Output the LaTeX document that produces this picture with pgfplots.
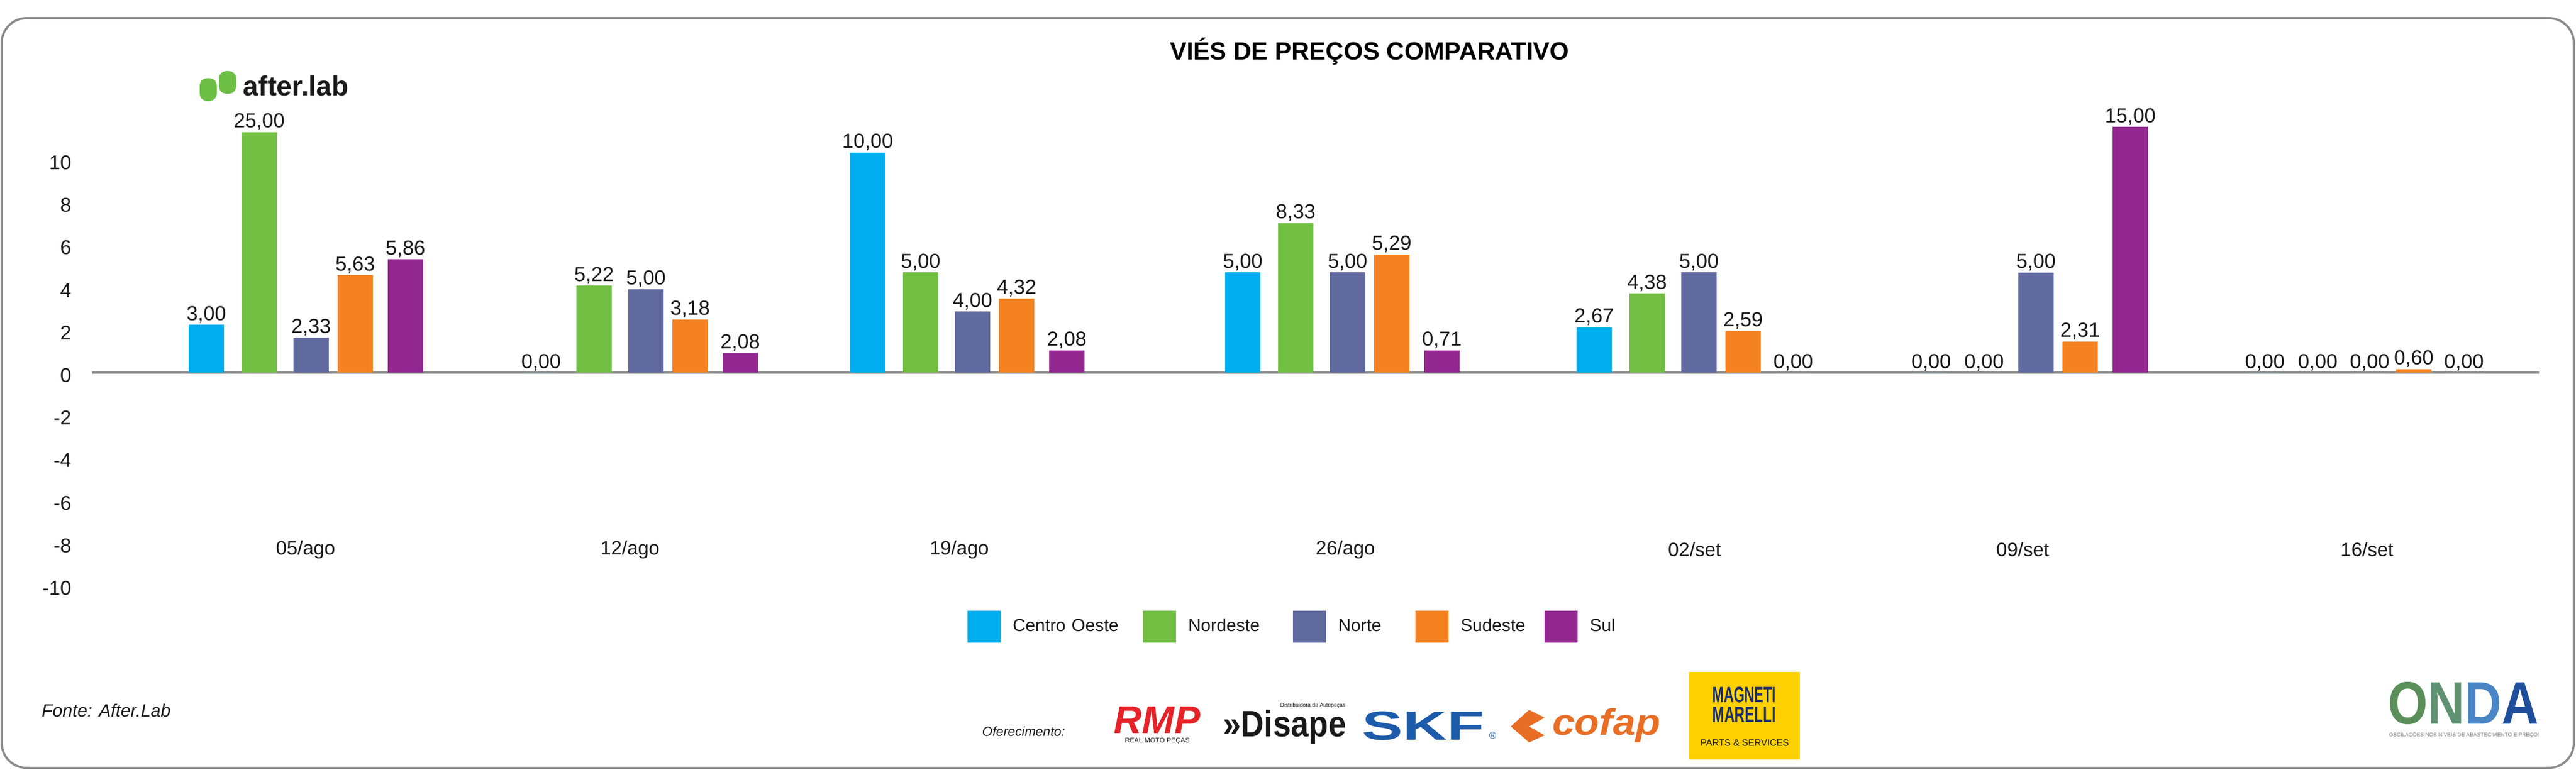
\documentclass[border=0pt]{standalone}
\usepackage{fontspec}
\setmainfont{Liberation Sans}
\usepackage{graphicx}
\usepackage{pgfplots}
\pgfplotsset{compat=1.18}
\definecolor{cCO}{HTML}{00AEEF}
\definecolor{cNE}{HTML}{72BF44}
\definecolor{cN}{HTML}{616A9F}
\definecolor{cSE}{HTML}{F58220}
\definecolor{cSul}{HTML}{92278F}
\definecolor{zerogray}{HTML}{8A8A8A}
\definecolor{framegray}{HTML}{8C8C8C}
\definecolor{txt}{HTML}{1A1A1A}
\definecolor{alab}{HTML}{6CBE45}
\definecolor{rmpred}{HTML}{E52329}
\definecolor{skfblue}{HTML}{1D5BAB}
\definecolor{cofap}{HTML}{E86E25}
\definecolor{mmyellow}{HTML}{FFD100}
\definecolor{mmnavy}{HTML}{1B2D6E}
\begin{document}
\begin{tikzpicture}
\useasboundingbox (0,0) rectangle (467mm,139.6mm);
\fill[white] (0,0) rectangle (467mm,139.6mm);
\begin{scope}[x=0.1mm,y=-0.1mm,shift={(0,139.6mm)}]
\draw[framegray, line width=0.4mm, rounded corners=4.5mm] (3,33) rectangle (4666,1393);
\node[anchor=base, inner sep=0pt, text=black] at (2483,109) {\fontsize{12.8}{15}\selectfont\bfseries VIÉS DE PREÇOS COMPARATIVO};
% after.lab logo
\fill[alab, rounded corners=1.3mm] (362,142) rectangle (393,183);
\fill[alab, rounded corners=1.3mm] (397,129) rectangle (428,170);
\node[anchor=base west, inner sep=0pt, text=txt] at (440,174) {\fontsize{14.2}{16}\selectfont\bfseries after.lab};
% source
\node[anchor=base west, inner sep=0pt, text=txt] at (75,1300) {\fontsize{9.2}{11}\selectfont\itshape Fonte: After.Lab};
\node[anchor=base west, inner sep=0pt, text=txt] at (1780,1335) {\fontsize{6.8}{8}\selectfont\itshape Oferecimento:};
% sponsors
\node[anchor=base, inner sep=0pt, text=rmpred] at (2098,1330) {\fontsize{20}{20}\selectfont\bfseries\itshape RMP};
\node[anchor=base, inner sep=0pt, text=txt] at (2098,1347) {\fontsize{3.5}{4}\selectfont REAL MOTO PEÇAS};
\node[anchor=base, inner sep=0pt, text=txt] at (2329,1336) {\scalebox{0.87}[1]{\fontsize{19}{20}\selectfont\bfseries »Disape}};
\node[anchor=base, inner sep=0pt, text=txt] at (2380,1282) {\fontsize{2.8}{3}\selectfont Distribuidora de Autopeças};
\node[anchor=base, inner sep=0pt, text=skfblue] at (2580,1342) {\scalebox{1.5}[1]{\fontsize{21}{21}\selectfont\bfseries SKF}};
\node[anchor=base, inner sep=0pt, text=skfblue] at (2706,1340) {\fontsize{5}{5}\selectfont ®};
\fill[cofap] (2772,1288) -- (2800,1302) -- (2772,1318) -- (2800,1334) -- (2772,1347) -- (2739,1318) -- cycle;
\node[anchor=base, inner sep=0pt, text=cofap] at (2912,1333) {\scalebox{1.1}[1]{\fontsize{19}{20}\selectfont\bfseries\itshape cofap}};
\fill[mmyellow] (3062,1219) rectangle (3263,1378);
\node[anchor=base, inner sep=0pt, text=mmnavy] at (3162,1274) {\scalebox{0.62}[1]{\fontsize{11.5}{12}\selectfont\bfseries MAGNETI}};
\node[anchor=base, inner sep=0pt, text=mmnavy] at (3162,1310) {\scalebox{0.64}[1]{\fontsize{11.5}{12}\selectfont\bfseries MARELLI}};
\node[anchor=base, inner sep=0pt, text=txt] at (3163,1353) {\fontsize{4.8}{5}\selectfont PARTS \& SERVICES};
% ONDA
\node[anchor=base, inner sep=0pt] at (4466,1313) {\scalebox{0.85}[1]{\fontsize{31}{31}\selectfont\bfseries\textcolor[HTML]{5A8F5A}{O}\textcolor[HTML]{5E9270}{N}\textcolor[HTML]{4A86C5}{D}\textcolor[HTML]{1F4E9A}{A}}};
\node[anchor=base, inner sep=0pt, text=gray] at (4467,1336) {\resizebox{27.2mm}{!}{\fontsize{3}{3}\selectfont OSCILAÇÕES NOS NÍVEIS DE ABASTECIMENTO E PREÇO!}};
\end{scope}
\begin{axis}[
  at={(16.7mm,33.4mm)}, anchor=south west,
  scale only axis, width=443.6mm, height=84.92mm,
  xmin=167, xmax=4603, ymin=-10, ymax=12,
  ybar, bar width=64,
  axis line style={draw=none}, major tick length=0pt,
  ytick={-10,-8,...,10},
  yticklabels={-10,-8,-6,-4,-2,0,2,4,6,8,10},
  yticklabel style={font=\fontsize{10.3}{12}\selectfont, text=txt, anchor=east, inner sep=0pt, xshift=-3.7mm, yshift=-0.5mm},
  xtick={554,1142,1739,2439,3072,3667,4291},
  xticklabels={05/ago,12/ago,19/ago,26/ago,02/set,09/set,16/set},
  xticklabel style={font=\fontsize{10}{12}\selectfont, text=txt, anchor=center, inner sep=0pt, yshift=6.5mm},
  extra y ticks={0}, extra y tick labels={},
  extra y tick style={grid=major, major grid style={zerogray, line width=0.33mm}},
  clip=false,
  point meta=explicit symbolic,
  nodes near coords,
  nodes near coords style={font=\fontsize{10.5}{12}\selectfont, text=txt, anchor=base, inner sep=0pt, yshift=0.8mm},
  legend columns=5,
  legend cell align=left,
  legend image code/.code={\fill[#1] (0mm,-2.9mm) rectangle (6mm,2.9mm);},
  legend style={at={(axis description cs:0.35775,-0.0883)}, anchor=west, draw=none, fill=none,
    inner sep=0pt, outer sep=0pt, font=\fontsize{9.1}{11}\selectfont, text=txt,
    nodes={inner sep=0pt, align=left},
    /tikz/every odd column/.append style={column sep=2.2mm},
    /tikz/every even column/.append style={column sep=0pt}},
]
\addplot[fill=cCO, draw=none, bar shift=-190] coordinates {
 (564,2.25) [3,00] (1171,0) [0,00] (1763,10.34) [10,00] (2443,4.71) [5,00]
 (3080,2.13) [2,67] (3691,0) [0,00] (4296,0) [0,00]};
\addlegendentry[text width=23.6mm]{Centro Oeste}
\addplot[fill=cNE, draw=none, bar shift=-94] coordinates {
 (564,11.3) [25,00] (1171,4.09) [5,22] (1763,4.71) [5,00] (2443,7.03) [8,33]
 (3080,3.72) [4,38] (3691,0) [0,00] (4296,0) [0,00]};
\addlegendentry[text width=19mm]{Nordeste}
\addplot[fill=cN, draw=none, bar shift=0] coordinates {
 (564,1.64) [2,33] (1171,3.92) [5,00] (1763,2.87) [4,00] (2443,4.71) [5,00]
 (3080,4.71) [5,00] (3691,4.70) [5,00] (4296,0) [0,00]};
\addlegendentry[text width=14mm]{Norte}
\addplot[fill=cSE, draw=none, bar shift=80] coordinates {
 (564,4.58) [5,63] (1171,2.50) [3,18] (1763,3.48) [4,32] (2443,5.55) [5,29]
 (3080,1.96) [2,59] (3691,1.46) [2,31] (4296,0.16) [0,60]};
\addlegendentry[text width=15.2mm]{Sudeste}
\addplot[fill=cSul, draw=none, bar shift=171] coordinates {
 (564,5.33) [5,86] (1171,0.92) [2,08] (1763,1.04) [2,08] (2443,1.04) [0,71]
 (3080,0) [0,00] (3691,11.55) [15,00] (4296,0) [0,00]};
\addlegendentry{Sul}
\end{axis}
\end{tikzpicture}
\end{document}
